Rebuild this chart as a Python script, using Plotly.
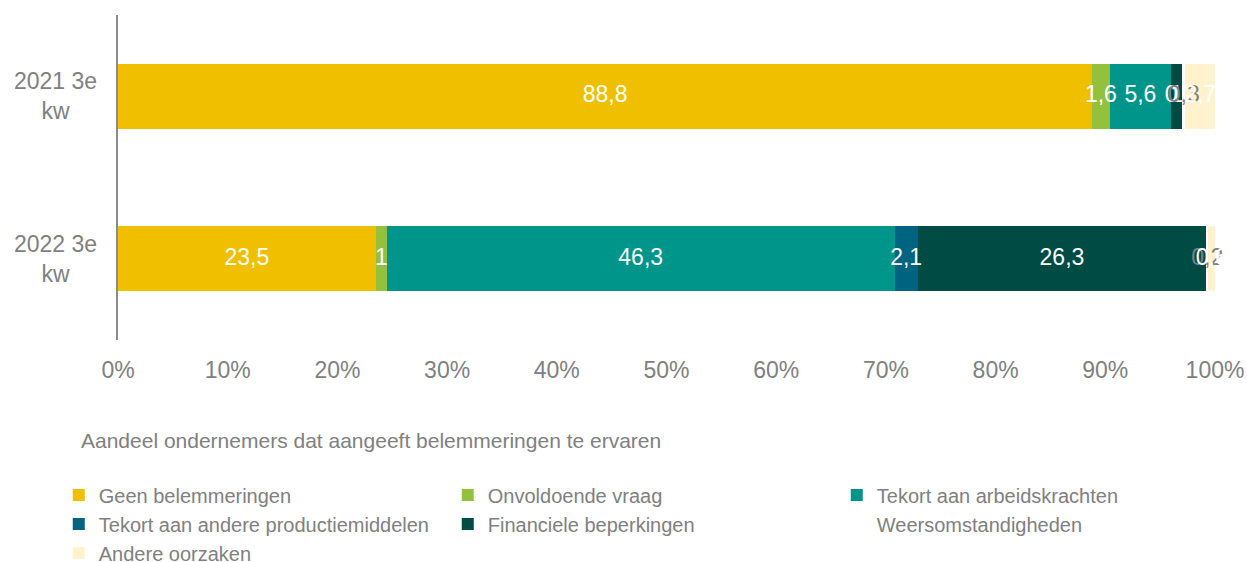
import plotly.graph_objects as go

categories = ["2022 3e kw", "2021 3e kw"]
category_labels = ["2022 3e<br>kw", "2021 3e<br>kw"]

series_names = [
    "Geen belemmeringen",
    "Onvoldoende vraag",
    "Tekort aan arbeidskrachten",
    "Tekort aan andere productiemiddelen",
    "Financiele beperkingen",
    "Weersomstandigheden",
    "Andere oorzaken",
]
# values per series: [2022 3e kw, 2021 3e kw]
geen = [23.5, 88.8]
onvoldoende = [1.0, 1.6]
tekort_arbeid = [46.3, 5.6]
tekort_andere = [2.1, 0.0]
financiele = [26.3, 1.0]
weer = [0.2, 0.3]
andere = [0.6, 2.7]
series_values = [geen, onvoldoende, tekort_arbeid, tekort_andere, financiele, weer, andere]

tick_vals = [0, 10, 20, 30, 40, 50, 60, 70, 80, 90, 100]
tick_text = ["0%", "10%", "20%", "30%", "40%", "50%", "60%", "70%", "80%", "90%", "100%"]

colors = ["#F0C000", "#93C13D", "#00958A", "#00637F", "#004B44", "#FFFFFF", "#FFF2CC"]
label_colors = ["white", "white", "white", "white", "white", "#808080", "white"]

GRAY = "#808080"
FONT = "Liberation Sans, Arial, sans-serif"


def fmt(v):
    return f"{v:g}".replace(".", ",")


fig = go.Figure()
for name, vals, col in zip(series_names, series_values, colors):
    fig.add_trace(go.Bar(
        name=name,
        y=categories,
        x=vals,
        orientation="h",
        marker=dict(color=col, line=dict(width=0)),
        hoverinfo="skip",
    ))

# data labels drawn on top of all bars, at the middle of each stacked segment
base = [0.0] * len(categories)
for vals, lcol in zip(series_values, label_colors):
    mids = [b + v / 2 for b, v in zip(base, vals)]
    fig.add_trace(go.Scatter(
        x=mids, y=categories, mode="text",
        text=[fmt(v) for v in vals],
        textposition="middle center",
        textfont=dict(color=lcol, size=23, family=FONT),
        showlegend=False, hoverinfo="skip", cliponaxis=False,
    ))
    base = [b + v for b, v in zip(base, vals)]

for cat, lab in zip(categories, category_labels):
    fig.add_annotation(
        x=0, xref="paper", y=cat, yref="y",
        text=lab, showarrow=False, xanchor="right", yanchor="middle",
        align="center", xshift=-19,
        font=dict(size=23, color=GRAY, family=FONT),
    )

fig.add_annotation(
    x=-0.0355, xref="paper", y=-0.3077, yref="paper",
    text="Aandeel ondernemers dat aangeeft belemmeringen te ervaren",
    showarrow=False, xanchor="left", yanchor="middle", align="left",
    font=dict(size=21, color=GRAY, family=FONT),
)

fig.update_layout(
    width=1247, height=562,
    margin=dict(l=118, r=32, t=15, b=222, autoexpand=False),
    barmode="stack",
    bargap=0.6,
    plot_bgcolor="white",
    paper_bgcolor="white",
    separators=",.",
    showlegend=True,
    legend=dict(
        orientation="h",
        x=-0.054, xanchor="left",
        y=-0.417, yanchor="top",
        entrywidth=344, entrywidthmode="pixels",
        font=dict(size=20, color=GRAY, family=FONT),
        traceorder="normal",
        bgcolor="rgba(0,0,0,0)",
    ),
    xaxis=dict(
        range=[0, 100],
        tickvals=tick_vals,
        ticktext=tick_text,
        showgrid=False,
        zeroline=False,
        showline=False,
        ticks="",
        ticklabelstandoff=14,
        tickfont=dict(size=23, color=GRAY, family=FONT),
    ),
    yaxis=dict(
        categoryorder="array",
        categoryarray=categories,
        range=[-0.5, 1.5],
        showticklabels=False,
        showgrid=False,
        zeroline=False,
        showline=True,
        linecolor="#8C8C8C",
        linewidth=2,
        ticks="",
    ),
    hovermode=False,
)

fig.write_html("out.html")
